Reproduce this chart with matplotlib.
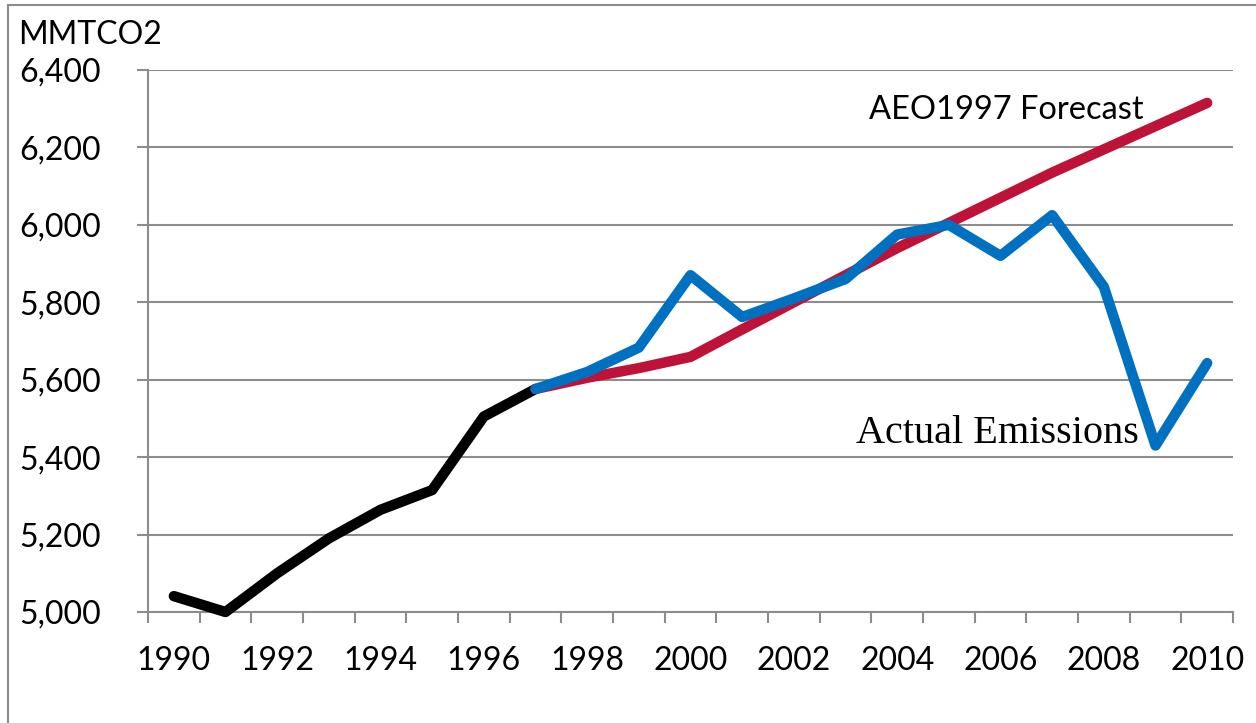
import matplotlib
matplotlib.use('Agg')
import matplotlib.pyplot as plt
import matplotlib.ticker as mticker
from matplotlib.patches import Rectangle

# US energy-related CO2 emissions, MMTCO2
years = list(range(1990, 2011))
history = [5041, 5000, 5100, 5190, 5264, 5315, 5505, 5576]          # 1990-1997
actual = [5576, 5620, 5683, 5870, 5762, 5810, 5860, 5975, 6000,
          5920, 6025, 5840, 5430, 5643]                             # 1997-2010
forecast = [5576, 5605, 5630, 5659, 5730, 5800, 5870, 5940, 6005,
            6070, 6135, 6195, 6255, 6315]                           # 1997-2010
yticks = [5000, 5200, 5400, 5600, 5800, 6000, 6200, 6400]

plt.rcParams['font.family'] = ['Lato', 'DejaVu Sans']

fig = plt.figure(figsize=(12.56, 7.23), dpi=100)
ax = fig.add_axes([148/1256, 1-612/723, (1233-148)/1256, (612-70)/723])

x_hist = list(range(len(history)))
x_fc = list(range(7, 7 + len(actual)))

ax.plot(x_hist, history, color='black', lw=7.5, solid_capstyle='round',
        solid_joinstyle='round', clip_on=False, zorder=3)
ax.plot(x_fc, forecast, color='#BE1238', lw=7.5, solid_capstyle='round',
        solid_joinstyle='round', clip_on=False, zorder=3)
ax.plot(x_fc, actual, color='#0070C0', lw=7.5, solid_capstyle='round',
        solid_joinstyle='round', clip_on=False, zorder=4)

ax.set_xlim(-0.5, len(years) - 0.5)
ax.set_ylim(5000, 6400)

for s in ['top', 'right']:
    ax.spines[s].set_visible(False)
for s in ['left', 'bottom']:
    ax.spines[s].set_color('#8c8c8c')
    ax.spines[s].set_linewidth(1.5)

ax.set_yticks(yticks)
ax.yaxis.set_major_formatter(mticker.FuncFormatter(lambda v, p: f'{int(v):,}'))
ax.grid(axis='y', color='#8c8c8c', lw=1.5)
ax.set_axisbelow(True)

# category axis: tick marks between categories, labels on every 2nd year
ax.set_xticks([i - 0.5 for i in range(len(years) + 1)])
ax.set_xticklabels([])
ax.set_xticks(list(range(0, len(years), 2)), minor=True)
ax.set_xticklabels([str(y) for y in years[::2]], minor=True)
ax.tick_params(axis='x', which='major', length=8, width=1.5, color='#8c8c8c')
ax.tick_params(axis='x', which='minor', length=0, pad=24.5, labelsize=23)
ax.tick_params(axis='y', length=8, width=1.5, color='#8c8c8c', pad=26, labelsize=23)

fig.text(18/1256, 1-44/723, 'MMTCO2', fontsize=23, ha='left', va='baseline')
fig.text(869/1256, 1-119/723, 'AEO1997 Forecast', fontsize=23.5, ha='left', va='baseline')
fig.text(856/1256, 1-443/723, 'Actual Emissions', fontsize=29, ha='left', va='baseline',
         family=['Liberation Serif', 'DejaVu Serif'])

# chart area border
fig.patches.append(Rectangle((8/1256, -0.05), 1.1, 1 - 5/723 + 0.05, transform=fig.transFigure,
                             fill=False, edgecolor='#8c8c8c', lw=1.5))

fig.savefig('out.png', dpi=100)
